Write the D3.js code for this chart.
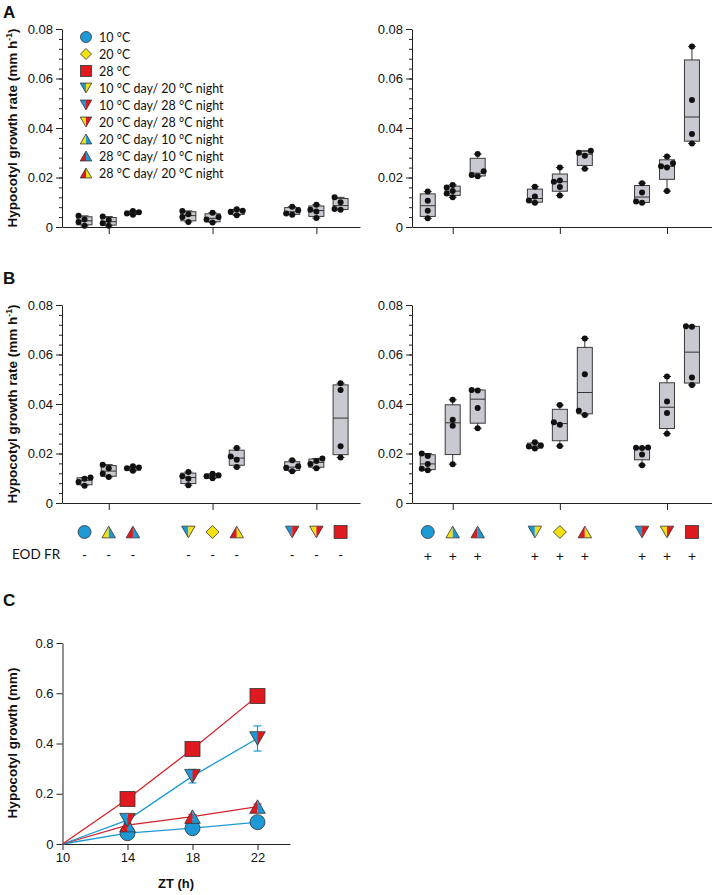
<!DOCTYPE html>
<html>
<head>
<meta charset="utf-8">
<script src="https://cdn.jsdelivr.net/npm/d3@7"></script>
<style>
body { margin: 0; background: #fff; }
svg text { font-family: "Liberation Sans", Arial, sans-serif; fill: #111; }
.soft { font-family: Lato, "Open Sans", sans-serif; }
</style>
</head>
<body>
<svg id="fig" width="712" height="895"></svg>
<script>
// conditions in plotting order (grouped by night temperature)
const dayTemp   = [10, 20, 28, 10, 20, 28, 10, 20, 28];
const nightTemp = [10, 10, 10, 20, 20, 20, 28, 28, 28];

// legend: index into the conditions above + label
const legendIdx = [0, 4, 8, 3, 6, 7, 1, 2, 5];
const legendLabels = ["10 °C", "20 °C", "28 °C",
  "10 °C day/ 20 °C night", "10 °C day/ 28 °C night", "20 °C day/ 28 °C night",
  "20 °C day/ 10 °C night", "28 °C day/ 10 °C night", "28 °C day/ 20 °C night"];

// growth rate (mm h-1), individual replicates per condition
const panelA_left = [
  [0.0005, 0.0020, 0.0030, 0.0045],
  [0.0005, 0.0015, 0.0028, 0.0042],
  [0.0050, 0.0055, 0.0060, 0.0065],
  [0.0020, 0.0040, 0.0052, 0.0065],
  [0.0018, 0.0030, 0.0040, 0.0058],
  [0.0047, 0.0062, 0.0066, 0.0072],
  [0.0050, 0.0055, 0.0068, 0.0082],
  [0.0036, 0.0063, 0.0070, 0.0090],
  [0.0070, 0.0073, 0.0100, 0.0120]
];
const panelA_right = [
  [0.0035, 0.0066, 0.0106, 0.0143],
  [0.0120, 0.0135, 0.0145, 0.0160, 0.0170],
  [0.0205, 0.0210, 0.0225, 0.0295],
  [0.0098, 0.0107, 0.0123, 0.0163],
  [0.0127, 0.0162, 0.0183, 0.0188, 0.0240],
  [0.0235, 0.0288, 0.0300, 0.0308],
  [0.0098, 0.0103, 0.0139, 0.0177],
  [0.0145, 0.0240, 0.0245, 0.0258, 0.0285],
  [0.0337, 0.0376, 0.0513, 0.0729]
];
const panelB_noFR = [
  [0.0070, 0.0085, 0.0098, 0.0103],
  [0.0105, 0.0118, 0.0140, 0.0155],
  [0.0130, 0.0140, 0.0143, 0.0148],
  [0.0072, 0.0098, 0.0108, 0.0125],
  [0.0100, 0.0108, 0.0112, 0.0118],
  [0.0145, 0.0175, 0.0188, 0.0222],
  [0.0128, 0.0142, 0.0148, 0.0173],
  [0.0140, 0.0158, 0.0170, 0.0180],
  [0.0184, 0.0229, 0.0457, 0.0484]
];
const panelB_FR = [
  [0.0132, 0.0138, 0.0158, 0.0190, 0.0200],
  [0.0157, 0.0312, 0.0336, 0.0417],
  [0.0302, 0.0384, 0.0455, 0.0457],
  [0.0220, 0.0228, 0.0232, 0.0245],
  [0.0230, 0.0316, 0.0326, 0.0396],
  [0.0356, 0.0373, 0.0520, 0.0665],
  [0.0153, 0.0196, 0.0222, 0.0223, 0.0224],
  [0.0280, 0.0364, 0.0410, 0.0511],
  [0.0477, 0.0507, 0.0712, 0.0714]
];
const rateTicks = [0, 0.02, 0.04, 0.06, 0.08];

// panel C: cumulative growth (mm) vs ZT
const ztHours = [10, 14, 18, 22];
const growthC_28 = [0, 0.179, 0.378, 0.589];
const errC_28 = [0, 0.008, 0.01, 0.02];
const growthC_10d28n = [0, 0.095, 0.27, 0.42];
const errC_10d28n = [0, 0.008, 0.027, 0.05];
const growthC_28d10n = [0, 0.075, 0.109, 0.149];
const errC_28d10n = [0, 0.005, 0.008, 0.01];
const growthC_10 = [0, 0.043, 0.063, 0.087];
const errC_10 = [0, 0.004, 0.006, 0.008];
const growthTicks = [0, 0.2, 0.4, 0.6, 0.8];
const ztTicks = [10, 14, 18, 22];

const colors = {10: "#1d9ad6", 20: "#f5e10f", 28: "#e0191f"};

let svg = d3.select("#fig");

// draws the condition symbol (split triangles for day/night combos)
function drawMarker(g, i, cx, cy, size) {
	let d = dayTemp[i], n = nightTemp[i];
	let m = g.append("g").attr("transform", "translate(" + cx + "," + cy + ")");
	if (d === n) {
		let el;
		if (d === 10) el = m.append("circle").attr("r", size / 2);
		else if (d === 20) {
			let s = size / 2;
			el = m.append("path").attr("d", "M0," + (-s) + "L" + s + ",0L0," + s + "L" + (-s) + ",0Z");
		} else el = m.append("rect").attr("x", -size / 2).attr("y", -size / 2).attr("width", size).attr("height", size);
		el.attr("fill", colors[d]).attr("stroke", "#333").attr("stroke-width", 0.8);
		return;
	}
	let w = size * 0.52, h = size * 0.9;
	let down = d < n;
	let base = down ? -h / 2 : h / 2, tip = down ? h / 2 : -h / 2;
	m.append("path").attr("d", "M" + (-w) + "," + base + "L0," + base + "L0," + tip + "Z").attr("fill", colors[d]);
	m.append("path").attr("d", "M0," + base + "L" + w + "," + base + "L0," + tip + "Z").attr("fill", colors[n]);
	m.append("path").attr("d", "M" + (-w) + "," + base + "L" + w + "," + base + "L0," + tip + "Z")
		.attr("fill", "none").attr("stroke", "#333").attr("stroke-width", 0.8);
}

// quartiles the way Prism computes them ((n+1)p)
function quart(sorted, p) {
	let pos = (sorted.length + 1) * p - 1;
	pos = Math.max(0, Math.min(sorted.length - 1, pos));
	let lo = Math.floor(pos);
	if (lo >= sorted.length - 1) return sorted[sorted.length - 1];
	return sorted[lo] + (pos - lo) * (sorted[lo + 1] - sorted[lo]);
}

function yLabel(x, cy, main, sup, tail) {
	let t = svg.append("text")
		.attr("transform", "translate(" + x + "," + cy + ") rotate(-90)")
		.attr("text-anchor", "middle")
		.attr("font-weight", "bold")
		.attr("font-size", 13.5)
		.text(main);
	if (sup) {
		t.append("tspan").attr("font-size", 8.5).attr("dy", -5).text(sup);
		t.append("tspan").attr("dy", 5).text(tail);
	}
}

function boxPanel(data, xRange, xDomain, yTop, yBottom) {
	let x = d3.scaleLinear().domain(xDomain).range(xRange);
	let y = d3.scaleLinear().domain([0, 0.08]).range([yBottom, yTop]);
	let g = svg.append("g");

	// minor ticks
	g.append("g").attr("transform", "translate(" + xRange[0] + ",0)")
		.call(d3.axisLeft(y).tickValues(d3.range(0, 0.0801, 0.004)).tickSize(3).tickSizeOuter(0).tickFormat(""))
		.call(a => a.select(".domain").remove());
	g.append("g").attr("transform", "translate(" + xRange[0] + ",0)")
		.call(d3.axisLeft(y).tickValues(rateTicks).tickSize(6).tickSizeOuter(0)
			.tickFormat(d => d === 0 ? "0" : d3.format(".2f")(d)));
	g.append("g").attr("transform", "translate(0," + yBottom + ")")
		.call(d3.axisBottom(x).tickValues([0, 1, 2]).tickSize(7).tickSizeOuter(0).tickFormat(""));
	g.selectAll(".tick text").attr("font-size", 13).attr("font-family", "Liberation Sans, Arial").attr("fill", "#222");
	g.selectAll("path.domain, .tick line").attr("stroke", "#222");

	let pos = i => x(Math.floor(i / 3) + (i % 3 - 1) * 0.233);
	let bw = 15;

	data.forEach(function(vals, i) {
		let s = vals.slice().sort(d3.ascending);
		let q1 = quart(s, 0.25), med = quart(s, 0.5), q3 = quart(s, 0.75);
		let cx = pos(i);
		let b = g.append("g");
		b.append("line").attr("x1", cx).attr("x2", cx).attr("y1", y(s[0])).attr("y2", y(s[s.length - 1]))
			.attr("stroke", "#333").attr("stroke-width", 1);
		[s[0], s[s.length - 1]].forEach(v => {
			b.append("line").attr("x1", cx - 4).attr("x2", cx + 4).attr("y1", y(v)).attr("y2", y(v))
				.attr("stroke", "#333").attr("stroke-width", 1);
		});
		b.append("rect").attr("x", cx - bw / 2).attr("width", bw)
			.attr("y", y(q3)).attr("height", Math.max(0.8, y(q1) - y(q3)))
			.attr("fill", "#c8c9d1").attr("stroke", "#3a3a3a").attr("stroke-width", 1);
		b.append("line").attr("x1", cx - bw / 2).attr("x2", cx + bw / 2).attr("y1", y(med)).attr("y2", y(med))
			.attr("stroke", "#333").attr("stroke-width", 1);

		// dodge overlapping dots sideways
		let placed = [];
		let offs = [0, -6, 6, -11, 11];
		s.forEach(v => {
			let py = y(v);
			let near = placed.filter(p => Math.abs(p[1] - py) < 5.5);
			let o = offs.find(c => near.every(p => Math.abs(p[0] - c) >= 5.5));
			if (o === undefined) o = 0;
			placed.push([o, py]);
			b.append("circle").attr("cx", cx + o).attr("cy", py).attr("r", 3).attr("fill", "#111");
		});
	});
	return pos;
}

// ---------- panel A ----------
svg.append("text").attr("x", 3).attr("y", 18).attr("font-weight", "bold").attr("font-size", 17).text("A");
boxPanel(panelA_left, [62, 360], [-0.45, 2.42], 29, 227);
boxPanel(panelA_right, [412, 712], [-0.38, 2.42], 29, 227);
yLabel(17, 128, "Hypocotyl growth rate (mm h", "-1", ")");

// legend
let lg = svg.append("g");
legendIdx.forEach(function(ci, k) {
	let ly = 37 + k * 17;
	drawMarker(lg, ci, 86, ly, 11);
	lg.append("text").attr("class", "soft").attr("x", 99).attr("y", ly + 4.5)
		.attr("font-size", 12.5).attr("fill", "#222").text(legendLabels[k]);
});

// ---------- panel B ----------
svg.append("text").attr("x", 3).attr("y", 284).attr("font-weight", "bold").attr("font-size", 17).text("B");
let posL = boxPanel(panelB_noFR, [62, 360], [-0.45, 2.42], 305, 503);
let posR = boxPanel(panelB_FR, [412, 712], [-0.38, 2.42], 305, 503);
yLabel(17, 404, "Hypocotyl growth rate (mm h", "-1", ")");

let mk = svg.append("g");
d3.range(9).forEach(function(i) {
	drawMarker(mk, i, posL(i), 532, 13);
	drawMarker(mk, i, posR(i), 532, 13);
	mk.append("text").attr("class", "soft").attr("x", posL(i)).attr("y", 560).attr("text-anchor", "middle")
		.attr("font-size", 13).attr("fill", "#333").text("-");
	mk.append("text").attr("class", "soft").attr("x", posR(i)).attr("y", 561).attr("text-anchor", "middle")
		.attr("font-size", 14).attr("fill", "#333").text("+");
});
mk.append("text").attr("class", "soft").attr("x", 12).attr("y", 559).attr("font-size", 13.5).attr("fill", "#222").text("EOD FR");

// ---------- panel C ----------
svg.append("text").attr("x", 3).attr("y", 606).attr("font-weight", "bold").attr("font-size", 17).text("C");
let xC = d3.scaleLinear().domain([10, 24]).range([62.5, 290]);
let yC = d3.scaleLinear().domain([0, 0.8]).range([844, 643]);
let gC = svg.append("g");
gC.append("g").attr("transform", "translate(62.5,0)")
	.call(d3.axisLeft(yC).tickValues(growthTicks).tickSize(6).tickSizeOuter(0)
		.tickFormat(d => d === 0 ? "0" : d3.format(".1f")(d)));
gC.append("g").attr("transform", "translate(0,844)")
	.call(d3.axisBottom(xC).tickValues(ztTicks).tickSize(6).tickSizeOuter(0));
gC.selectAll(".tick text").attr("font-size", 13).attr("font-family", "Liberation Sans, Arial").attr("fill", "#222");
gC.selectAll("path.domain, .tick line").attr("stroke", "#222");
yLabel(17, 743, "Hypocotyl growth (mm)");
svg.append("text").attr("x", 176).attr("y", 888).attr("text-anchor", "middle")
	.attr("font-weight", "bold").attr("font-size", 13).text("ZT (h)");

let seriesC = [
	{vals: growthC_10, err: errC_10, cond: 0, color: colors[10]},
	{vals: growthC_28d10n, err: errC_28d10n, cond: 2, color: "#d2232a"},
	{vals: growthC_10d28n, err: errC_10d28n, cond: 6, color: colors[10]},
	{vals: growthC_28, err: errC_28, cond: 8, color: "#d2232a"}
];
let line = d3.line().x((d, i) => xC(ztHours[i])).y(d => yC(d));
seriesC.forEach(s => {
	gC.append("path").attr("d", line(s.vals)).attr("fill", "none").attr("stroke", s.color).attr("stroke-width", 1.3);
	s.vals.forEach((v, i) => {
		if (!s.err[i]) return;
		let cx = xC(ztHours[i]);
		gC.append("line").attr("x1", cx).attr("x2", cx).attr("y1", yC(v - s.err[i])).attr("y2", yC(v + s.err[i]))
			.attr("stroke", s.color).attr("stroke-width", 1.2);
		[v - s.err[i], v + s.err[i]].forEach(e => {
			gC.append("line").attr("x1", cx - 4).attr("x2", cx + 4).attr("y1", yC(e)).attr("y2", yC(e))
				.attr("stroke", s.color).attr("stroke-width", 1.2);
		});
	});
});
seriesC.forEach(s => {
	s.vals.forEach((v, i) => {
		if (i === 0) return;
		drawMarker(gC, s.cond, xC(ztHours[i]), yC(v), 15);
	});
});
</script>
</body>
</html>
